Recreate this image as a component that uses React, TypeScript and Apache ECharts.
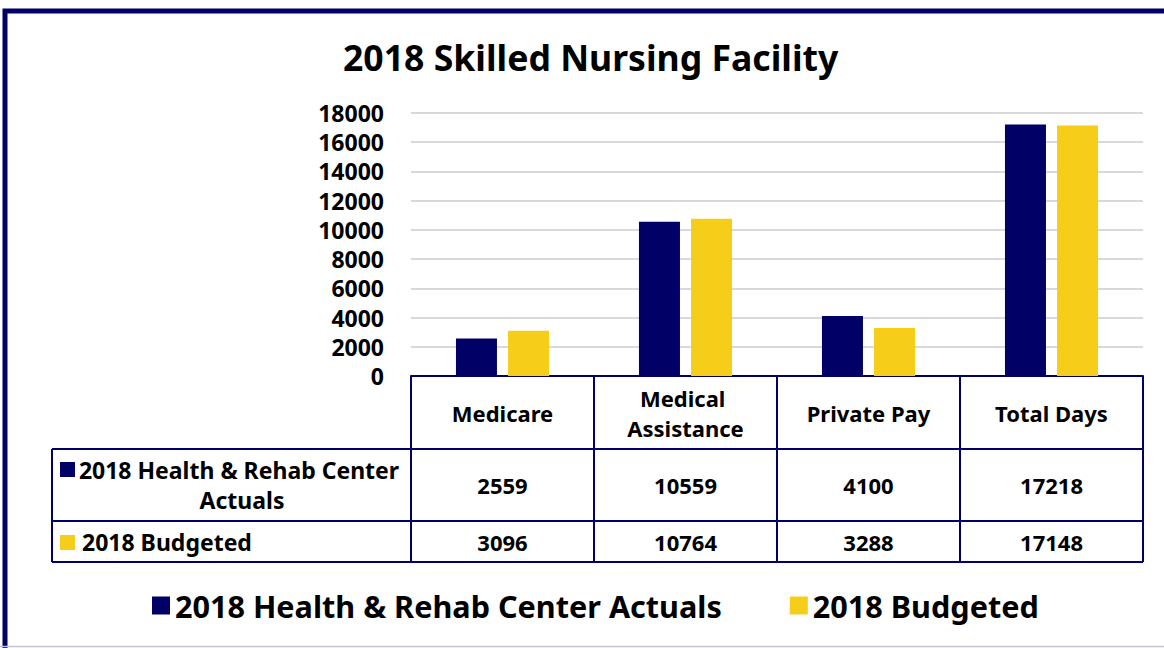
import React, { useEffect, useRef } from "react";
import * as echarts from "echarts";

const title = "2018 Skilled Nursing Facility";
const categories = ["Medicare", "Medical Assistance", "Private Pay", "Total Days"];
const seriesNames = ["2018 Health & Rehab Center Actuals", "2018 Budgeted"];
const actuals = [2559, 10559, 4100, 17218];
const budgeted = [3096, 10764, 3288, 17148];
const yMin = 0;
const yMax = 18000;
const yStep = 2000;

const NAVY = "#000066";
const YELLOW = "#F6CE1A";
const FONT = "'Noto Sans', 'Open Sans', sans-serif";

export default function App() {
  const ref = useRef<HTMLDivElement>(null);

  useEffect(() => {
    if (!ref.current) return;
    const chart = echarts.init(ref.current, undefined, { renderer: "svg" });

    const gridLeft = 411;
    const gridRight = 21;
    const gridTop = 113;
    const gridBottomY = 376;
    const row1Bottom = 449;
    const row2Bottom = 521;
    const tableBottom = 562;
    const tableLeft = 52;
    const tableRight = 1164 - gridRight;

    const lineStyle = { stroke: NAVY, lineWidth: 2 };

    const option: any = {
      animation: false,
      backgroundColor: "#ffffff",
      textStyle: { fontFamily: FONT },
      title: {
        text: title,
        left: 338,
        top: 34,
        textStyle: { fontSize: 35.6, fontWeight: "bold", color: "#000", fontFamily: FONT },
      },
      legend: {
        data: seriesNames,
        left: 147,
        top: 585,
        icon: "rect",
        itemWidth: 18,
        itemHeight: 18,
        itemGap: 68,
        textStyle: { fontSize: 30.6, fontWeight: "bold", color: "#000", fontFamily: FONT },
      },
      grid: {
        left: gridLeft,
        right: gridRight,
        top: gridTop,
        bottom: 648 - gridBottomY,
        containLabel: false,
      },
      xAxis: [
        {
          type: "category",
          data: categories,
          position: "bottom",
          axisLine: { show: true, lineStyle: { color: NAVY, width: 2 } },
          axisTick: {
            show: true,
            length: tableBottom - gridBottomY,
            interval: 0,
            lineStyle: { color: NAVY, width: 2 },
          },
          axisLabel: {
            interval: 0,
            margin: 37,
            verticalAlign: "middle",
            width: 175,
            overflow: "break",
            lineHeight: 30,
            fontSize: 22,
            fontWeight: "bold",
            color: "#000",
            fontFamily: FONT,
          },
        },
        {
          type: "category",
          data: categories,
          position: "bottom",
          axisLine: { show: false },
          axisTick: { show: false },
          axisLabel: {
            interval: 0,
            margin: 109,
            verticalAlign: "middle",
            fontSize: 22,
            fontWeight: "bold",
            color: "#000",
            fontFamily: FONT,
            formatter: (_v: string, i: number) => String(actuals[i]),
          },
        },
        {
          type: "category",
          data: categories,
          position: "bottom",
          axisLine: { show: false },
          axisTick: { show: false },
          axisLabel: {
            interval: 0,
            margin: 166,
            verticalAlign: "middle",
            fontSize: 22,
            fontWeight: "bold",
            color: "#000",
            fontFamily: FONT,
            formatter: (_v: string, i: number) => String(budgeted[i]),
          },
        },
      ],
      yAxis: {
        type: "value",
        min: yMin,
        max: yMax,
        interval: yStep,
        axisLine: { show: false },
        axisTick: { show: false },
        splitLine: { lineStyle: { color: "#d9d9d9", width: 2 } },
        axisLabel: {
          margin: 27,
          fontSize: 23,
          fontWeight: "bold",
          color: "#000",
          fontFamily: FONT,
          formatter: (v: number) => String(v),
        },
      },
      series: [
        {
          name: seriesNames[0],
          type: "bar",
          data: actuals,
          barWidth: 41,
          barGap: "27%",
          itemStyle: { color: NAVY },
        },
        {
          name: seriesNames[1],
          type: "bar",
          data: budgeted,
          barWidth: 41,
          barGap: "27%",
          itemStyle: { color: YELLOW },
        },
      ],
      graphic: [
        {
          type: "rect",
          silent: true,
          z: -1,
          shape: { x: 5, y: 11, width: 1400, height: 900 },
          style: { fill: "none", stroke: NAVY, lineWidth: 5 },
        },
        {
          type: "line",
          silent: true,
          shape: { x1: 0, y1: 646.5, x2: 1164, y2: 646.5 },
          style: { stroke: "#c4c4cc", lineWidth: 1.5 },
        },
        {
          type: "line",
          silent: true,
          shape: { x1: tableLeft, y1: row1Bottom, x2: tableRight, y2: row1Bottom },
          style: lineStyle,
        },
        {
          type: "line",
          silent: true,
          shape: { x1: tableLeft, y1: row2Bottom, x2: tableRight, y2: row2Bottom },
          style: lineStyle,
        },
        {
          type: "line",
          silent: true,
          shape: { x1: tableLeft, y1: tableBottom, x2: tableRight, y2: tableBottom },
          style: lineStyle,
        },
        {
          type: "line",
          silent: true,
          shape: { x1: tableLeft, y1: row1Bottom, x2: tableLeft, y2: tableBottom },
          style: lineStyle,
        },
        {
          type: "rect",
          silent: true,
          shape: { x: 60, y: 462, width: 15, height: 15 },
          style: { fill: NAVY },
        },
        {
          type: "rect",
          silent: true,
          shape: { x: 60, y: 535, width: 15, height: 15 },
          style: { fill: YELLOW },
        },
        {
          type: "text",
          silent: true,
          x: 242,
          y: 485,
          style: {
            text: seriesNames[0],
            width: 365,
            overflow: "break",
            align: "center",
            verticalAlign: "middle",
            lineHeight: 30,
            fontSize: 23,
            fontWeight: "bold",
            fontFamily: FONT,
            fill: "#000",
          },
        },
        {
          type: "text",
          silent: true,
          x: 82,
          y: 542,
          style: {
            text: seriesNames[1],
            align: "left",
            verticalAlign: "middle",
            fontSize: 23,
            fontWeight: "bold",
            fontFamily: FONT,
            fill: "#000",
          },
        },
      ],
    };

    chart.setOption(option);
    return () => chart.dispose();
  }, []);

  return (
    <div
      ref={ref}
      style={{ position: "absolute", left: 0, top: 0, width: 1164, height: 648 }}
    />
  );
}
